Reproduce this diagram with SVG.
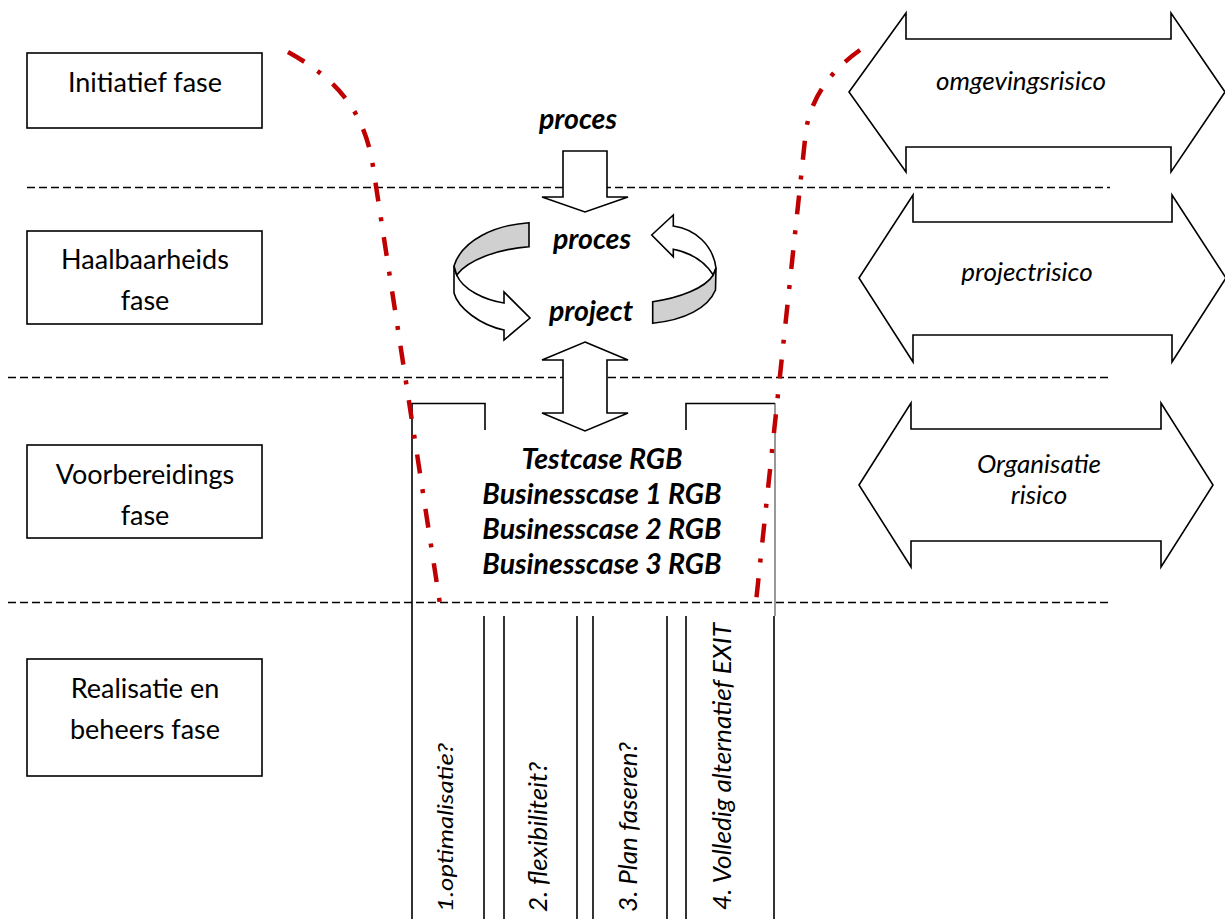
<svg xmlns="http://www.w3.org/2000/svg" width="1225" height="919" viewBox="0 0 1225 919">
<style>
.box{fill:#fff;stroke:#000;stroke-width:1.6}
.shape{fill:#fff;stroke:#000;stroke-width:1.6;stroke-linejoin:miter}
.gray{fill:#d0d0d0;stroke:#000;stroke-width:1.6}
.ln{fill:none;stroke:#000;stroke-width:1.6}
.dash{fill:none;stroke:#000;stroke-width:1.6;stroke-dasharray:8 4}
.red{fill:none;stroke:#C00000;stroke-width:4.5;stroke-dasharray:19 16 4 16}
.t{font-family:Lato,"Open Sans","Liberation Sans",sans-serif;font-size:27px;fill:#000;text-anchor:middle}
.bi{font-family:Lato,"Open Sans","Liberation Sans",sans-serif;font-size:28.5px;font-weight:bold;font-style:italic;fill:#000;text-anchor:middle}
.it{font-family:Lato,"Open Sans","Liberation Sans",sans-serif;font-size:26px;font-style:italic;fill:#000;text-anchor:middle}
.rot{font-family:Lato,"Open Sans","Liberation Sans",sans-serif;font-size:25.5px;font-style:italic;fill:#000;text-anchor:start}
</style>

<g id="separators">
<line class="dash" x1="27" y1="187.5" x2="1110" y2="187.5"/>
<line class="dash" x1="8" y1="377.5" x2="1108" y2="377.5"/>
<line class="dash" x1="8" y1="602.5" x2="1108" y2="602.5"/>
</g>

<g id="phase-initiatief">
<rect class="box" x="27" y="53" width="235" height="75"/>
<text class="t" x="145" y="92">Initiatief fase</text>
</g>
<g id="phase-haalbaarheid">
<rect class="box" x="27" y="231" width="235" height="93"/>
<text class="t" x="145" y="269">Haalbaarheids</text>
<text class="t" x="145" y="310">fase</text>
</g>
<g id="phase-voorbereiding">
<rect class="box" x="27" y="445" width="235" height="93"/>
<text class="t" x="145" y="484">Voorbereidings</text>
<text class="t" x="145" y="525">fase</text>
</g>
<g id="phase-realisatie">
<rect class="box" x="27" y="659" width="235" height="117"/>
<text class="t" x="145" y="698">Realisatie en</text>
<text class="t" x="145" y="739">beheers fase</text>
</g>

<g id="risk-omgeving">
<path class="shape" d="M849,92 L906,13 L906,39 L1171,39 L1171,13 L1225,92 L1171,172 L1171,147 L906,147 L906,172 Z"/>
<text class="it" x="1021" y="90">omgevingsrisico</text>
</g>
<g id="risk-project">
<path class="shape" d="M859,278 L913,195 L913,222 L1172,222 L1172,195 L1226,278 L1172,362 L1172,335 L913,335 L913,362 Z"/>
<text class="it" x="1027" y="281">projectrisico</text>
</g>
<g id="risk-organisatie">
<path class="shape" d="M859,485 L911,403 L911,429 L1161,429 L1161,403 L1213,485 L1161,567 L1161,541 L911,541 L911,567 Z"/>
<text class="it" x="1039" y="473">Organisatie</text>
<text class="it" x="1039" y="504">risico</text>
</g>

<g id="center-flow">
<text class="bi" x="578" y="129">proces</text>
<path class="shape" d="M563,151 L607,151 L607,197 L628,197 L585,212 L542,197 L563,197 Z"/>
<text class="bi" x="592" y="249">proces</text>
<text class="bi" x="591" y="321">project</text>
<path class="shape" d="M454,266 L454,293 C 458,308 480,325 504,330 L504,340 L530,318 L504,292 L504,303 C 485,300 463,290 456.7,275 Z"/>
<path class="gray" d="M529,222.7 C 495,225 462,240 454,266 L456.7,275 C 468,260 498,249 529,246.7 Z"/>
<path class="shape" d="M651.7,235 L673.3,215 L673.3,226 C 695,229 713,245 716,268 L713.3,275 C 705,262 692,253 673.3,249.3 L673.3,256.7 Z"/>
<path class="gray" d="M716,268 L715.5,290 C 708,308 685,320 652.7,323.3 L652.7,301.7 C 680,298 705,288 713.3,275 Z"/>
<path class="shape" d="M585,342 L628,360 L607,360 L607,413 L628,413 L585,431 L542,413 L563,413 L563,360 L542,360 Z"/>
</g>

<g id="cases">
<path class="ln" d="M485,430 L485,403.5 L412,403.5 L412,919"/>
<path class="ln" d="M686,430 L686,403.5 L775,403.5"/>
<line x1="775" y1="403" x2="775" y2="616" stroke="#444" stroke-width="1.1"/>
<text class="bi" x="602" y="469">Testcase RGB</text>
<text class="bi" x="602" y="504">Businesscase 1 RGB</text>
<text class="bi" x="602" y="539">Businesscase 2 RGB</text>
<text class="bi" x="602" y="574">Businesscase 3 RGB</text>
</g>

<g id="options">
<line class="ln" x1="484" y1="616" x2="484" y2="919"/>
<line class="ln" x1="504" y1="616" x2="504" y2="919"/>
<line class="ln" x1="577" y1="616" x2="577" y2="919"/>
<line class="ln" x1="593" y1="616" x2="593" y2="919"/>
<line class="ln" x1="667" y1="616" x2="667" y2="919"/>
<line class="ln" x1="686" y1="616" x2="686" y2="919"/>
<line class="ln" x1="774" y1="616" x2="774" y2="919"/>
<text class="rot" style="font-size:22px" transform="translate(453,912) rotate(-90)" textLength="169" lengthAdjust="spacingAndGlyphs">1.optimalisatie?</text>
<text class="rot" transform="translate(547,912) rotate(-90)" textLength="150" lengthAdjust="spacingAndGlyphs">2. flexibiliteit?</text>
<text class="rot" transform="translate(637,912) rotate(-90)" textLength="170" lengthAdjust="spacingAndGlyphs">3. Plan faseren?</text>
<text class="rot" transform="translate(731,910) rotate(-90)" textLength="287" lengthAdjust="spacingAndGlyphs">4. Volledig alternatief EXIT</text>
</g>

<g id="boundaries">
<path class="red" d="M288,52 C 335,78 362,108 372,160 L 442,617"/>
<path class="red" d="M860,50 C 832,70 812,95 806,130 L 756,602"/>
</g>
</svg>
